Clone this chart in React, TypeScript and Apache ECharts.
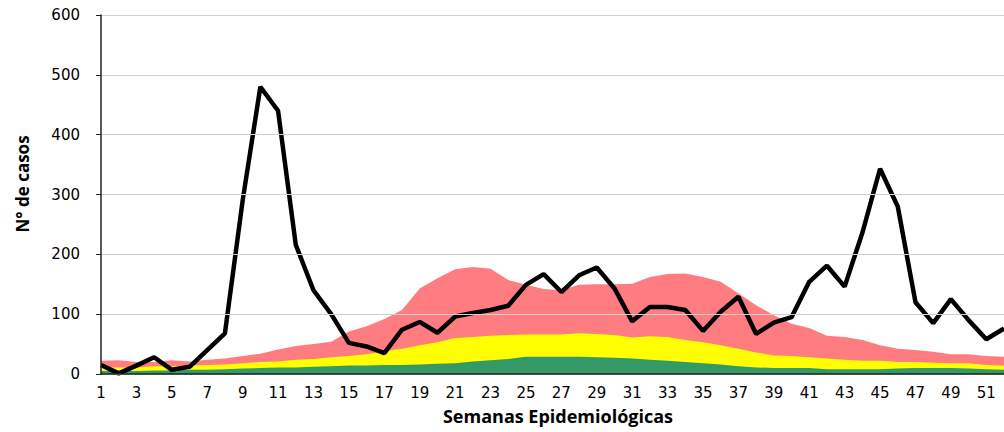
import React, { useEffect, useRef } from "react";
import * as echarts from "echarts";

const weeks: string[] = Array.from({ length: 52 }, (_, i) => String(i + 1));

const casos = [15, 1, 14, 28, 7, 12, 40, 68, 290, 480, 440, 216, 140, 100, 52, 46, 35, 74, 87, 69, 96, 102, 107, 114, 149, 167, 137, 165, 178, 143, 88, 112, 112, 107, 72, 104, 129, 67, 86, 95, 154, 181, 146, 236, 343, 280, 120, 85, 125, 90, 58, 76];

const zonaAlarma = [22, 23, 20, 20, 23, 21, 24, 26, 30, 34, 41, 47, 50, 54, 71, 80, 92, 107, 143, 160, 175, 179, 176, 157, 149, 142, 140, 149, 150, 150, 151, 162, 167, 168, 162, 154, 135, 115, 98, 84, 77, 64, 62, 57, 48, 42, 40, 37, 33, 33, 30, 29];

const zonaSeguridad = [11, 11, 11, 13, 13, 14, 15, 16, 18, 20, 21, 24, 25, 28, 30, 33, 38, 42, 48, 53, 60, 62, 64, 65, 66, 66, 66, 68, 67, 65, 61, 63, 62, 57, 53, 48, 42, 36, 31, 30, 28, 26, 24, 22, 22, 20, 20, 19, 18, 18, 15, 14];

const zonaExito = [5, 5, 5, 6, 6, 7, 7, 8, 9, 10, 11, 11, 12, 13, 14, 14, 15, 15, 16, 17, 18, 21, 23, 25, 29, 29, 29, 29, 28, 27, 26, 24, 22, 20, 18, 16, 13, 11, 10, 10, 10, 8, 8, 8, 8, 9, 10, 10, 10, 9, 8, 7];

const yTicks = { min: 0, max: 600, interval: 100 };

export default function App() {
  const ref = useRef<HTMLDivElement>(null);
  useEffect(() => {
    if (!ref.current) return;
    const chart = echarts.init(ref.current, undefined, { renderer: "svg" });
    const area = (name: string, data: number[], color: string) => ({
      name,
      type: "line",
      data,
      symbol: "none",
      lineStyle: { width: 0 },
      areaStyle: { color, opacity: 1 },
      itemStyle: { color },
      z: 2,
    });
    chart.setOption({
      animation: false,
      backgroundColor: "#ffffff",
      grid: { left: 101, right: -9, top: 15, bottom: 58, containLabel: false },
      xAxis: {
        type: "category",
        data: weeks,
        boundaryGap: false,
        z: 5,
        axisLine: { show: true, lineStyle: { color: "#222", width: 1.5 } },
        axisTick: { show: false },
        axisLabel: {
          interval: 1,
          margin: 11,
          color: "#000",
          fontSize: 15,
          fontFamily: "DejaVu Sans, sans-serif",
        },
        splitLine: { show: false },
      },
      yAxis: {
        type: "value",
        min: yTicks.min,
        max: yTicks.max,
        interval: yTicks.interval,
        z: 5,
        axisLine: { show: true, lineStyle: { color: "#222", width: 1.5 } },
        axisTick: { show: true, length: 5, lineStyle: { color: "#222" } },
        axisLabel: {
          margin: 21,
          color: "#000",
          fontSize: 15,
          fontFamily: "DejaVu Sans, sans-serif",
        },
        splitLine: { show: true, lineStyle: { color: "#CFCFCF", width: 1 } },
      },
      series: [
        area("Zona de alarma", zonaAlarma, "#FF7C80"),
        area("Zona de seguridad", zonaSeguridad, "#FFFF00"),
        area("Zona de éxito", zonaExito, "#339966"),
        {
          name: "Casos",
          type: "line",
          data: casos,
          symbol: "none",
          lineStyle: { color: "#000", width: 4.5 },
          itemStyle: { color: "#000" },
          z: 3,
        },
      ],
      graphic: [
        {
          type: "text",
          x: 22,
          y: 184,
          rotation: Math.PI / 2,
          style: {
            text: "N° de casos",
            fontSize: 17,
            fontWeight: "bold",
            fontFamily: "Open Sans, sans-serif",
            fill: "#000",
            align: "center",
            verticalAlign: "middle",
          },
        },
        {
          type: "text",
          x: 558,
          y: 416,
          style: {
            text: "Semanas Epidemiológicas",
            fontSize: 18,
            fontWeight: "bold",
            fontFamily: "Open Sans, sans-serif",
            fill: "#000",
            align: "center",
            verticalAlign: "middle",
          },
        },
      ],
    });
    return () => chart.dispose();
  }, []);
  return (
    <div
      ref={ref}
      style={{ position: "absolute", left: 0, top: 0, width: 1004, height: 432 }}
    />
  );
}
